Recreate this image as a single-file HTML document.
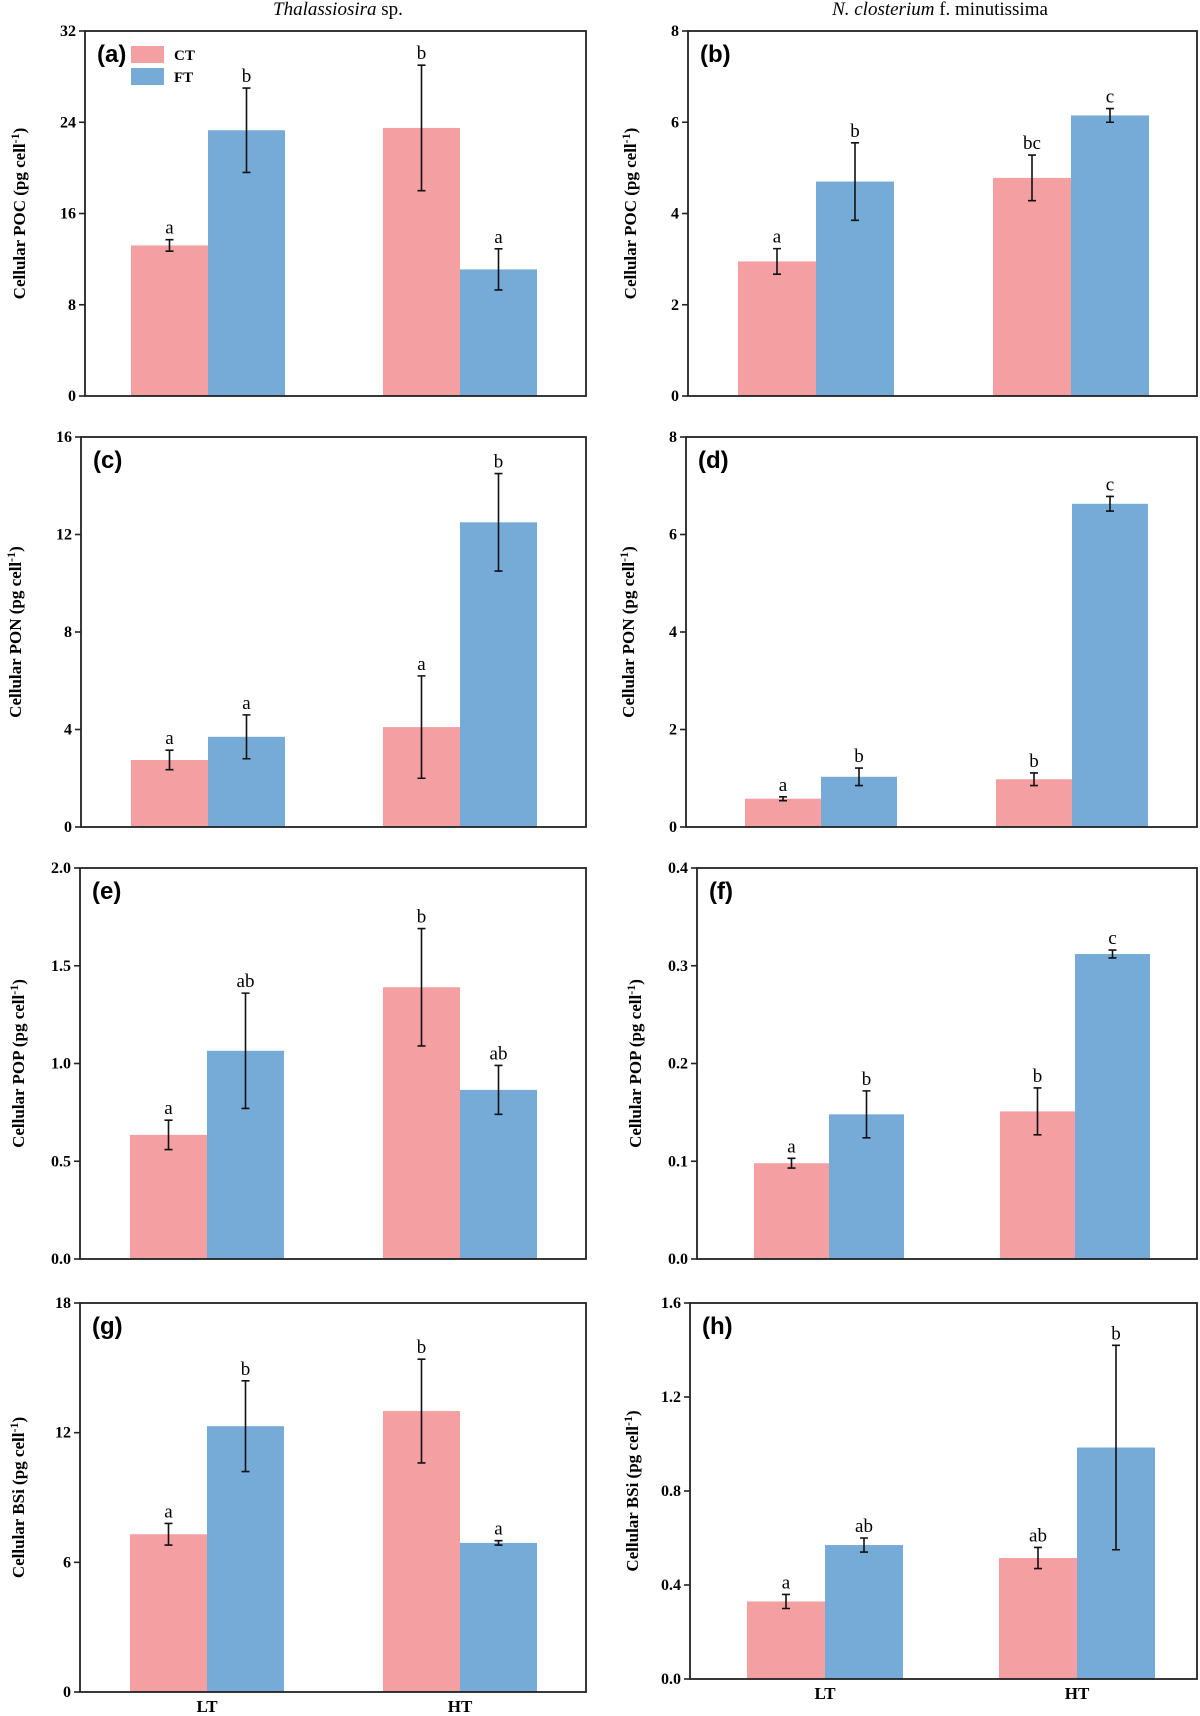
<!DOCTYPE html>
<html><head><meta charset="utf-8"><style>
html,body{margin:0;padding:0;background:#fff;}
svg{display:block;}
</style></head><body>
<svg id="fig" width="1200" height="1716" viewBox="0 0 1200 1716" xmlns="http://www.w3.org/2000/svg">
<text x="338" y="15" text-anchor="middle" font-family="Liberation Serif, serif" font-size="19"><tspan font-style="italic">Thalassiosira</tspan> sp.</text>
<text x="940" y="15" text-anchor="middle" font-family="Liberation Serif, serif" font-size="19"><tspan font-style="italic">N. closterium</tspan> f. minutissima</text>
<g>
<rect x="131" y="46" width="33" height="17" fill="#f4a0a3"/>
<text x="174" y="60" font-family="Liberation Serif, serif" font-weight="bold" font-size="15">CT</text>
<rect x="131" y="68" width="33" height="17" fill="#76abd7"/>
<text x="174" y="82" font-family="Liberation Serif, serif" font-weight="bold" font-size="15">FT</text>
</g>
</svg>
<script>
const panelIds = ["a","b","c","d","e","f","g","h"];
const yLabels = ["POC","POC","PON","PON","POP","POP","BSi","BSi"];
const yMax = [32,8,16,8,2.0,0.4,18,1.6];
const yTicks = [[0,8,16,24,32],[0,2,4,6,8],[0,4,8,12,16],[0,2,4,6,8],[0,0.5,1.0,1.5,2.0],[0,0.1,0.2,0.3,0.4],[0,6,12,18],[0,0.4,0.8,1.2,1.6]];
const tickDecimals = [0,0,0,0,1,1,0,1];
const categories = ["LT","HT"];
const ctValues = [[13.2,23.5],[2.95,4.78],[2.75,4.1],[0.58,0.98],[0.635,1.39],[0.098,0.151],[7.3,13.0],[0.33,0.515]];
const ctErrors = [[0.5,5.5],[0.28,0.5],[0.4,2.1],[0.04,0.13],[0.075,0.3],[0.005,0.024],[0.5,2.4],[0.03,0.045]];
const ftValues = [[23.3,11.1],[4.7,6.15],[3.7,12.5],[1.03,6.63],[1.065,0.865],[0.148,0.312],[12.3,6.9],[0.57,0.985]];
const ftErrors = [[3.7,1.8],[0.85,0.15],[0.9,2.0],[0.18,0.15],[0.295,0.125],[0.024,0.004],[2.1,0.1],[0.03,0.435]];
const ctLetters = [["a","b"],["a","bc"],["a","a"],["a","b"],["a","b"],["a","b"],["a","b"],["a","ab"]];
const ftLetters = [["b","a"],["b","c"],["a","b"],["b","c"],["ab","ab"],["b","c"],["b","a"],["ab","b"]];

const boxes = [
 {L:85,R:586,T:31,B:396,g:[131,383],w:77},
 {L:688,R:1197,T:31,B:396,g:[738,993],w:78},
 {L:81,R:586,T:437,B:827,g:[131,383],w:77},
 {L:686,R:1197,T:437,B:827,g:[745,996],w:76},
 {L:80,R:586,T:868,B:1259,g:[130,383],w:77},
 {L:697,R:1197,T:868,B:1259,g:[754,1000],w:75},
 {L:80,R:586,T:1303,B:1692,g:[130,383],w:77},
 {L:690,R:1197,T:1303,B:1679,g:[747,999],w:78}
];
const NS="http://www.w3.org/2000/svg";
const svg=document.getElementById('fig');
function mk(tag,attrs,parent){const e=document.createElementNS(NS,tag);for(const k in attrs)e.setAttribute(k,attrs[k]);(parent||svg).appendChild(e);return e;}
const serif="Liberation Serif, serif";
panelIds.forEach((id,p)=>{
 const b=boxes[p];
 const g=mk('g',{});
 
 
 const y=v=>b.B-(v/yMax[p])*(b.B-b.T);
 const colors=["#f4a0a3","#76abd7"];
 const series=[[ctValues,ctErrors,ctLetters,"ct"],[ftValues,ftErrors,ftLetters,"ft"]];
 categories.forEach((c,i)=>{
  series.forEach((s,si)=>{
   const v=s[0][p][i], e=s[1][p][i];
   const x0=b.g[i]+si*b.w, cx=x0+b.w/2;
   const r=mk('rect',{x:x0,y:y(v),width:b.w,height:b.B-y(v),fill:colors[si]},g);
   
   
   const eb=mk('path',{d:`M${cx},${y(v+e)}V${y(v-e)}M${cx-4},${y(v+e)}h8M${cx-4},${y(v-e)}h8`,stroke:'#111','stroke-width':1.6,fill:'none'},g);
   
   
   const t=mk('text',{x:cx,y:y(v+e)-6,'text-anchor':'middle','font-family':serif,'font-size':19},g);
   t.textContent=s[2][p][i];
   
   
  });
 });
 const frame=mk('rect',{x:b.L,y:b.T,width:b.R-b.L,height:b.B-b.T,fill:'none',stroke:'#222','stroke-width':1.8},g);
 
 
 yTicks[p].forEach(tv=>{
  const ty=y(tv);
  mk('line',{x1:b.L-6,x2:b.L,y1:ty,y2:ty,stroke:'#222','stroke-width':1.6},g);
  const t=mk('text',{x:b.L-9,y:ty+5,'text-anchor':'end','font-family':serif,'font-weight':'bold','font-size':16},g);
  t.textContent=tv.toFixed(tickDecimals[p]);
  
  
 });
 const pl=mk('text',{x:b.L+12,y:b.T+31,'font-family':'Liberation Sans, sans-serif','font-weight':'bold','font-size':24},g);
 pl.textContent='('+id+')';
 
 
 const lx=b.L-(p%2==0?(p>=4?56:60):(p==5?56:52)), ly=(b.T+b.B)/2;
 const yl=mk('text',{x:lx,y:ly,transform:`rotate(-90 ${lx} ${ly})`,'text-anchor':'middle','font-family':serif,'font-weight':'bold','font-size':17},g);
 yl.innerHTML='Cellular '+yLabels[p]+' (pg cell<tspan dy="-6" font-size="12">-1</tspan><tspan dy="6">)</tspan>';
 
 
 if(p>=6){
  categories.forEach((c,i)=>{
   const t=mk('text',{x:b.g[i]+b.w,y:b.B+20,'text-anchor':'middle','font-family':serif,'font-weight':'bold','font-size':17},g);
   t.textContent=c;
   
   
  });
 }
});
</script>
</body></html>
